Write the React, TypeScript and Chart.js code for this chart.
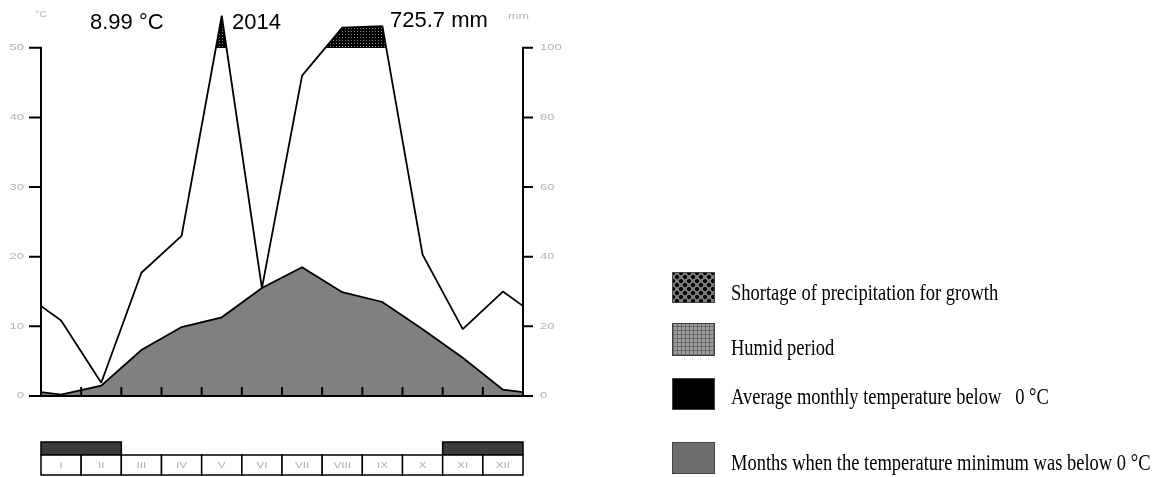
import React, { useEffect, useRef } from "react";
import { Chart, registerables } from "chart.js";

Chart.register(...registerables);

const months = ["I", "II", "III", "IV", "V", "VI", "VII", "VIII", "IX", "X", "XI", "XII"];
const temperature = [0.2, 1.5, 6.6, 9.9, 11.3, 15.5, 18.5, 14.9, 13.5, 9.6, 5.5, 0.9];
const precipitation = [21.7, 3.8, 35.4, 46, 146, 31, 92, 129, 131, 40.6, 19.2, 30];
const frostMonths = [1, 1, 0, 0, 0, 0, 0, 0, 0, 0, 1, 1];
const tempTicks = [0, 10, 20, 30, 40, 50];
const precipTicks = [0, 20, 40, 60, 80, 100];
const meanTempLabel = "8.99 \u00B0C";
const yearLabel = "2014";
const totalPrecipLabel = "725.7 mm";
const legendItems = [
  "Shortage of precipitation for growth",
  "Humid period",
  "Average monthly temperature below   0 \u00B0C",
  "Months when the temperature minimum was below 0 \u00B0C",
];

// Walter-Lieth: above 100 mm the precipitation scale is compressed
const wl = (mm: number) => (mm <= 100 ? mm : 100 + (mm - 100) / 5);

// points at month centres, with Dec / Jan repeated beyond the edges (clipped)
function cyclic(values: number[], f: (v: number) => number) {
  const pts = values.map((v, i) => ({ x: i + 0.5, y: f(v) }));
  return [{ x: -0.5, y: f(values[11]) }, ...pts, { x: 12.5, y: f(values[0]) }];
}

function stretchedText(ctx: CanvasRenderingContext2D, text: string, x: number, y: number, align: "left" | "right" | "center", sx: number) {
  ctx.save();
  ctx.translate(x, y);
  ctx.scale(sx, 1);
  ctx.textAlign = align;
  ctx.fillText(text, 0, 0);
  ctx.restore();
}

// fills the part of the precipitation curve above 100 mm (black, dotted)
const capFill = {
  id: "wlCap",
  beforeDatasetsDraw(chart: any) {
    const meta = chart.getDatasetMeta(0);
    const pts = meta.data;
    if (!pts || !pts.length) return;
    const area = chart.chartArea;
    const yb = Math.round(chart.scales.y2.getPixelForValue(100));
    const top = Math.floor(area.top);
    const left = Math.round(area.left);
    const right = Math.round(area.right);
    const ctx: CanvasRenderingContext2D = chart.ctx;
    ctx.save();
    ctx.beginPath();
    ctx.rect(left, top, right - left, yb - top);
    ctx.clip();
    ctx.beginPath();
    ctx.moveTo(pts[0].x, yb);
    pts.forEach((p: any) => ctx.lineTo(p.x, p.y));
    ctx.lineTo(pts[pts.length - 1].x, yb);
    ctx.closePath();
    ctx.fillStyle = "#000";
    ctx.fill();
    ctx.clip();
    ctx.fillStyle = "#8c8c8c";
    for (let x = left + 1; x < right; x += 3) {
      for (let y = top + 1; y < yb - 1; y += 3) {
        ctx.fillRect(x, y, 1, 1);
      }
    }
    ctx.restore();
  },
};

const decorations = {
  id: "wlDecorations",
  afterDraw(chart: any) {
    const ctx: CanvasRenderingContext2D = chart.ctx;
    const xs = chart.scales.x;
    const ys = chart.scales.y;
    const ys2 = chart.scales.y2;
    const xL = xs.getPixelForValue(0);
    const xR = xs.getPixelForValue(12);
    const y0 = ys.getPixelForValue(0);
    const yTop = ys.getPixelForValue(50);
    ctx.save();
    ctx.strokeStyle = "#000";
    ctx.lineWidth = 2;
    ctx.lineCap = "butt";
    // axes
    ctx.beginPath();
    ctx.moveTo(xL, yTop - 1);
    ctx.lineTo(xL, y0 + 1);
    ctx.moveTo(xR, ys2.getPixelForValue(100) - 1);
    ctx.lineTo(xR, y0 + 1);
    ctx.moveTo(xL - 12, y0);
    ctx.lineTo(xR + 10, y0);
    tempTicks.forEach((t) => {
      const py = ys.getPixelForValue(t);
      ctx.moveTo(xL - 12, py);
      ctx.lineTo(xL, py);
    });
    precipTicks.forEach((t) => {
      const py = ys2.getPixelForValue(t);
      ctx.moveTo(xR, py);
      ctx.lineTo(xR + 10, py);
    });
    for (let i = 1; i < 12; i++) {
      const px = xs.getPixelForValue(i);
      ctx.moveTo(px, y0);
      ctx.lineTo(px, y0 - 9);
    }
    ctx.stroke();

    // tick labels
    ctx.fillStyle = "#b4b4b4";
    ctx.font = "9px 'Liberation Sans', Arial, sans-serif";
    ctx.textBaseline = "middle";
    tempTicks.forEach((t) => {
      stretchedText(ctx, String(t), xL - 17, ys.getPixelForValue(t), "right", 1.45);
    });
    precipTicks.forEach((t) => {
      stretchedText(ctx, String(t), xR + 17, ys2.getPixelForValue(t), "left", 1.45);
    });
    stretchedText(ctx, "\u00B0C", xL - 6, 15, "left", 1.2);
    stretchedText(ctx, "mm", xR - 15, 17, "left", 1.4);

    // month boxes
    const barTop = y0 + 46;
    const boxTop = y0 + 59;
    const boxBottom = y0 + 79;
    ctx.lineWidth = 1.5;
    let i = 0;
    while (i < 12) {
      if (!frostMonths[i]) {
        i++;
        continue;
      }
      let j = i;
      while (j < 12 && frostMonths[j]) j++;
      const a = xs.getPixelForValue(i);
      const b = xs.getPixelForValue(j);
      ctx.fillStyle = "#3c3c3c";
      ctx.fillRect(a, barTop, b - a, boxTop - barTop);
      ctx.strokeRect(a, barTop, b - a, boxTop - barTop);
      i = j;
    }
    months.forEach((m, k) => {
      const a = xs.getPixelForValue(k);
      const b = xs.getPixelForValue(k + 1);
      ctx.fillStyle = "#fff";
      ctx.fillRect(a, boxTop, b - a, boxBottom - boxTop);
      ctx.strokeRect(a, boxTop, b - a, boxBottom - boxTop);
      ctx.fillStyle = "#b0b0b0";
      ctx.font = "9px 'Liberation Sans', Arial, sans-serif";
      stretchedText(ctx, m, (a + b) / 2, (boxTop + boxBottom) / 2 + 1, "center", 1.3);
    });

    // header texts
    ctx.fillStyle = "#000";
    ctx.font = "22px 'Liberation Sans', Arial, sans-serif";
    ctx.textBaseline = "alphabetic";
    ctx.textAlign = "left";
    ctx.fillText(meanTempLabel, 90, 29);
    ctx.fillText(yearLabel, 232, 29);
    ctx.fillText(totalPrecipLabel, 390, 27);
    ctx.restore();
  },
};

export default function App() {
  const ref = useRef<HTMLCanvasElement | null>(null);
  useEffect(() => {
    if (!ref.current) return;
    const chart = new Chart(ref.current, {
      type: "line",
      data: {
        datasets: [
          {
            label: "Precipitation",
            data: cyclic(precipitation, wl),
            yAxisID: "y2",
            borderColor: "#000",
            borderWidth: 1.8,
            borderJoinStyle: "bevel",
            pointRadius: 0,
            tension: 0,
            order: 0,
            fill: false,
          } as any,
          {
            label: "Temperature",
            data: cyclic(temperature, (v) => v),
            yAxisID: "y",
            borderColor: "#000",
            borderWidth: 1.8,
            backgroundColor: "#808080",
            pointRadius: 0,
            tension: 0,
            order: 1,
            fill: "origin",
          },
        ],
      },
      options: {
        animation: false,
        responsive: false,
        events: [],
        layout: { padding: { left: 41, right: 642, top: 6, bottom: 81 } },
        plugins: { legend: { display: false }, tooltip: { enabled: false } },
        scales: {
          x: { type: "linear", min: 0, max: 12, display: false },
          y: { type: "linear", min: 0, max: 56, display: false },
          y2: { type: "linear", min: 0, max: 112, display: false },
        },
      },
      plugins: [capFill, decorations],
    });
    return () => chart.destroy();
  }, []);

  const boxes: React.CSSProperties[] = [
    {
      top: 272,
      height: 31,
      backgroundColor: "#7a7a7a",
      backgroundImage:
        "radial-gradient(circle, #000 1.7px, transparent 2.3px), radial-gradient(circle, #000 1.7px, transparent 2.3px)",
      backgroundSize: "8px 8px, 8px 8px",
      backgroundPosition: "0 0, 4px 4px",
    },
    {
      top: 323,
      height: 33,
      backgroundColor: "#a0a0a0",
      backgroundImage:
        "repeating-linear-gradient(90deg, #666 0 1px, transparent 1px 4px), repeating-linear-gradient(0deg, #666 0 1px, transparent 1px 4px)",
    },
    { top: 378, height: 32, backgroundColor: "#000" },
    { top: 442, height: 32, backgroundColor: "#6e6e6e" },
  ];
  const textCenters = [293, 348, 397, 463];

  return (
    <div style={{ position: "fixed", left: 0, top: 0, width: 1165, height: 477, background: "#fff", overflow: "hidden" }}>
      <canvas ref={ref} width={1165} height={477} style={{ position: "absolute", left: 0, top: 0, width: 1165, height: 477 }} />
      {boxes.map((b, i) => (
        <div
          key={"b" + i}
          style={{ position: "absolute", left: 672, width: 43, border: "1px solid #444", boxSizing: "border-box", ...b }}
        />
      ))}
      {legendItems.map((t, i) => (
        <div
          key={"t" + i}
          style={{
            position: "absolute",
            left: 731,
            top: textCenters[i] - 12,
            height: 24,
            lineHeight: "24px",
            fontFamily: "'Liberation Serif', 'Times New Roman', serif",
            fontSize: 18.5,
            color: "#000",
            whiteSpace: "pre",
            transform: "scaleY(1.2)",
            transformOrigin: "left center",
          }}
        >
          {t}
        </div>
      ))}
    </div>
  );
}
